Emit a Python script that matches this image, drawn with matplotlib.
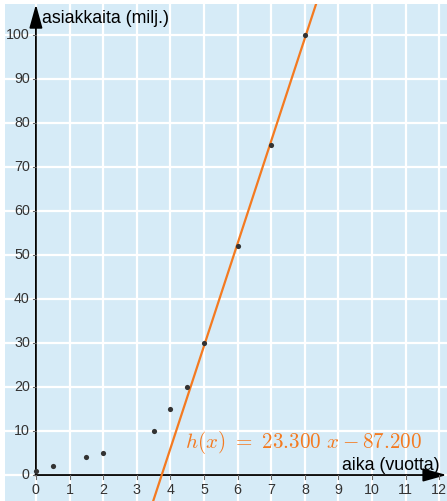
import matplotlib
matplotlib.use("Agg")
import matplotlib.pyplot as plt
import numpy as np

# Customer data (millions) by year
years = [0, 0.5, 1.5, 2, 3.5, 4, 4.5, 5, 6, 7, 8]
customers = [1, 2, 4, 5, 10, 15, 20, 30, 52, 75, 100]

# Linear model h(x) = a x + b
slope = 23.3
intercept = -87.2

x_ticks = list(range(0, 13))
y_ticks = list(range(0, 101, 10))

bg = "#d6ebf7"
orange = "#f47a20"
ink = "#333333"

fig = plt.figure(figsize=(4.47, 5.01), dpi=100)
ax = fig.add_axes([5 / 447, 0, 442 / 447, 497 / 501])
ax.set_facecolor(bg)
ax.set_xlim(-0.92, 12.23)
ax.set_ylim(-5.9, 107.0)

for s in ax.spines.values():
    s.set_visible(False)

# white grid
for xv in x_ticks:
    ax.axvline(xv, color="white", lw=1.6, zorder=1)
for yv in y_ticks:
    ax.axhline(yv, color="white", lw=1.6, zorder=1)

# axes with arrows
arrow_style = "-|>,head_length=0.72,head_width=0.2"
ax.annotate("", xy=(0, 106.9), xytext=(0, -0.1),
            arrowprops=dict(arrowstyle=arrow_style, color="black", lw=1.3,
                            mutation_scale=20, shrinkA=0, shrinkB=0), zorder=3)
ax.annotate("", xy=(12.22, 0), xytext=(-0.02, 0),
            arrowprops=dict(arrowstyle=arrow_style, color="black", lw=1.3,
                            mutation_scale=20, shrinkA=0, shrinkB=0), zorder=3)

# tick marks and labels
for xv in x_ticks:
    ax.plot([xv, xv], [0, -0.8], color="#666666", lw=0.8, zorder=3)
    ax.text(xv, -3.4, str(xv), ha="center", va="center", fontsize=10.3,
            color=ink, family="Liberation Sans")
for yv in y_ticks:
    ax.plot([-0.08, 0], [yv, yv], color="#666666", lw=0.8, zorder=3)
    ax.text(-0.18, yv, str(yv), ha="right", va="center", fontsize=10.3,
            color=ink, family="Liberation Sans")

ax.text(0.18, 103.7, "asiakkaita (milj.)", ha="left", va="center",
        fontsize=12.8, color="black", family="Liberation Sans")
ax.text(12.0, 2.2, "aika (vuotta)", ha="right", va="center",
        fontsize=12.8, color="black", family="Liberation Sans")

# fitted line
xl = np.array([-0.92, 12.23])
ax.plot(xl, slope * xl + intercept, color=orange, lw=1.6, zorder=4)

# data points
ax.scatter(years, customers, s=14, color=ink, zorder=5, linewidths=0)

plt.rcParams["mathtext.fontset"] = "cm"
ax.text(4.43, 7.3, r"$h(x)\ =\ 23.300\ x - 87.200$", ha="left", va="center",
        fontsize=15.2, color=orange, zorder=6)

ax.set_xticks([])
ax.set_yticks([])

fig.savefig("out.png", dpi=100, facecolor="white")
